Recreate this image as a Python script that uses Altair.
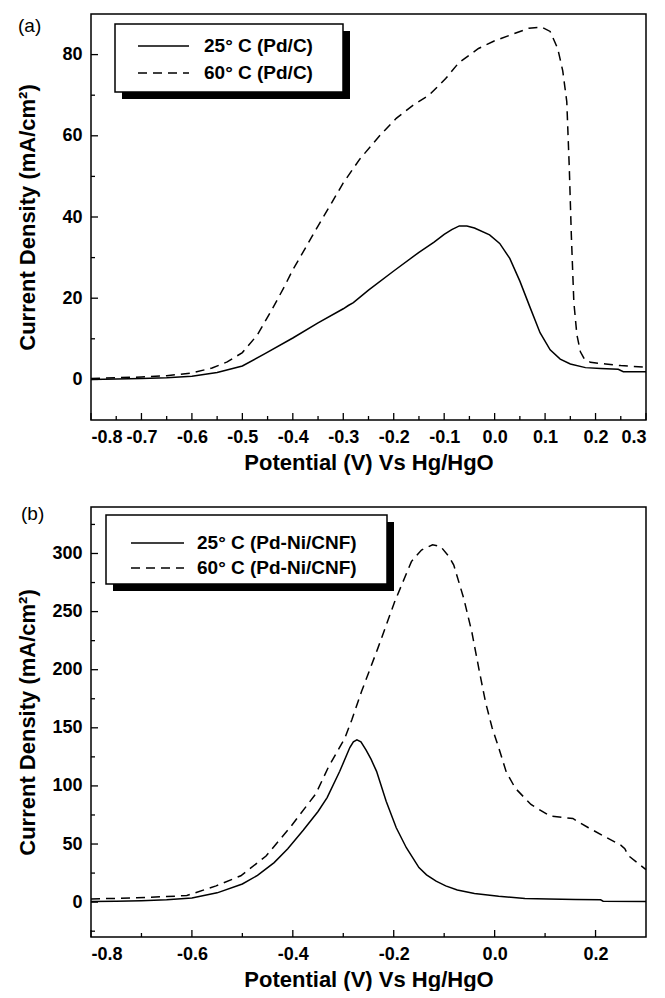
import altair as alt
import pandas as pd

FONT = "Liberation Sans"

# ---------------- Panel (a): Pd/C ----------------
a_x_25 = [-0.80, -0.75, -0.70, -0.65, -0.60, -0.55, -0.50, -0.456, -0.40, -0.35, -0.30, -0.29,
          -0.28, -0.25, -0.20, -0.15, -0.12, -0.10, -0.085, -0.07, -0.055, -0.04, -0.01, 0.01,
          0.03, 0.05, 0.07, 0.09, 0.11, 0.13, 0.15, 0.18, 0.21, 0.245, 0.255, 0.30]
a_y_25 = [0.0, 0.1, 0.2, 0.4, 0.8, 1.7, 3.3, 6.3, 10.2, 13.9, 17.4, 18.2,
          18.9, 22.0, 26.7, 31.3, 33.8, 35.7, 36.9, 37.8, 37.8, 37.3, 35.6, 33.5,
          29.8, 24.2, 17.8, 11.5, 7.3, 5.0, 3.8, 2.9, 2.7, 2.5, 1.9, 1.9]

a_x_60 = [-0.80, -0.75, -0.70, -0.65, -0.60, -0.56, -0.53, -0.50, -0.47, -0.44, -0.417,
          -0.40, -0.373, -0.358, -0.323, -0.30, -0.267, -0.228, -0.195, -0.162, -0.13, -0.097,
          -0.071, -0.032, -0.002, 0.035, 0.068, 0.093, 0.11, 0.125, 0.135, 0.143, 0.148, 0.152,
          0.157, 0.163, 0.17, 0.178, 0.19, 0.22, 0.25, 0.30]
a_y_60 = [0.2, 0.4, 0.6, 0.9, 1.6, 2.8, 4.3, 6.6, 11.0, 17.5, 22.8,
          27.0, 32.8, 36.1, 43.5, 48.4, 54.3, 60.0, 64.3, 67.5, 70.0, 74.1,
          78.0, 81.5, 83.3, 85.0, 86.5, 86.8, 85.7, 81.5, 76.0, 68.4, 52.0, 35.6,
          19.0, 11.0, 6.8, 5.0, 4.2, 3.8, 3.4, 3.0]

a_xticks_major = [-0.8, -0.7, -0.6, -0.5, -0.4, -0.3, -0.2, -0.1, 0.0, 0.1, 0.2, 0.3]
a_xticks_minor = [-0.75, -0.65, -0.55, -0.45, -0.35, -0.25, -0.15, -0.05, 0.05, 0.15, 0.25]
a_yticks_major = [0, 20, 40, 60, 80]
a_yticks_minor = [10, 30, 50, 70]
a_legend = ["25° C (Pd/C)", "60° C (Pd/C)"]

# ---------------- Panel (b): Pd-Ni/CNF ----------------
b_x_25 = [-0.80, -0.75, -0.70, -0.65, -0.60, -0.55, -0.50, -0.47, -0.437, -0.41, -0.379, -0.35,
          -0.332, -0.307, -0.287, -0.28, -0.273, -0.265, -0.255, -0.245, -0.234, -0.215,
          -0.195, -0.175, -0.15, -0.135, -0.116, -0.097, -0.074, -0.04, 0.008, 0.06, 0.107,
          0.16, 0.21, 0.215, 0.30]
b_y_25 = [0.5, 0.8, 1.2, 2.0, 3.5, 8.0, 15.6, 23.0, 34.0, 46.0, 62.0, 78.0,
          90.0, 112.6, 133.0, 138.0, 139.7, 138.0, 131.0, 123.0, 112.5, 86.8,
          64.0, 46.8, 29.7, 23.5, 18.0, 14.0, 10.5, 7.5, 5.0, 3.2, 2.6,
          2.2, 2.0, 0.8, 0.6]

b_x_60 = [-0.80, -0.75, -0.709, -0.65, -0.61, -0.552, -0.503, -0.453, -0.404, -0.354, -0.33,
          -0.297, -0.283, -0.264, -0.231, -0.198, -0.165, -0.145, -0.123, -0.107, -0.09,
          -0.081, -0.061, -0.045, -0.03, -0.018, -0.005, 0.008, 0.023, 0.041, 0.072, 0.11,
          0.155, 0.17, 0.186, 0.224, 0.25, 0.258, 0.265, 0.30]
b_y_60 = [2.8, 3.2, 3.7, 4.8, 5.7, 14.0, 22.7, 39.7, 65.0, 93.5, 115.7,
          141.0, 157.0, 181.0, 219.0, 258.6, 293.0, 303.0, 307.5, 306.0, 297.0,
          290.0, 261.0, 232.0, 198.0, 172.0, 150.0, 133.0, 112.0, 98.0, 84.0, 74.0,
          72.0, 68.0, 64.0, 55.0, 49.0, 46.0, 40.0, 28.0]

b_xticks_major = [-0.8, -0.6, -0.4, -0.2, 0.0, 0.2]
b_xticks_minor = [-0.7, -0.5, -0.3, -0.1, 0.1]
b_yticks_major = [0, 50, 100, 150, 200, 250, 300]
b_yticks_minor = [-25, 25, 75, 125, 175, 225, 275, 325]
b_legend = ["25° C (Pd-Ni/CNF)", "60° C (Pd-Ni/CNF)"]

x_title = "Potential (V) Vs Hg/HgO"
y_title = "Current Density (mA/cm²)"

W = 555
XLABEL = "replace(format(datum.value, '.1f'), '\u2212', '-')"


def make_panel(tag, xs25, ys25, xs60, ys60, xdom, ydom, xmaj, xmin, ymaj, ymin,
               legend, H, box, rows, sample, textx, tagpos):
    xscale = alt.Scale(domain=xdom, nice=False, zero=False)
    yscale = alt.Scale(domain=ydom, nice=False, zero=False)
    xaxis = alt.Axis(values=xmaj, labelExpr=XLABEL, title=x_title, labelPadding=8,
                     labelOverlap=False, labelBound=False,
                     titlePadding=6, tickSize=0, ticks=False, domain=False, grid=False)
    yaxis = alt.Axis(values=ymaj, format="d", title=y_title, labelPadding=9, tickSize=0,
                     labelOverlap=False,
                     ticks=False, domain=False, grid=False,
                     titleX=-57, titleAngle=270, titleBaseline="alphabetic")

    df25 = pd.DataFrame({"x": xs25, "y": ys25})
    df60 = pd.DataFrame({"x": xs60, "y": ys60})
    solid = alt.Chart(df25).mark_line(color="black", strokeWidth=1.5).encode(
        x=alt.X("x:Q", scale=xscale, axis=xaxis),
        y=alt.Y("y:Q", scale=yscale, axis=yaxis),
    )
    dashed = alt.Chart(df60).mark_line(color="black", strokeWidth=1.5,
                                       strokeDash=[9, 6]).encode(
        x=alt.X("x:Q", scale=xscale, axis=xaxis),
        y=alt.Y("y:Q", scale=yscale, axis=yaxis),
    )

    def xt(vals, length):
        return alt.Chart(pd.DataFrame({"x": vals})).mark_rule(
            color="black", strokeWidth=1.3).encode(
            x=alt.X("x:Q", scale=xscale, axis=xaxis),
            y=alt.value(H), y2=alt.value(H - length))

    def yt(vals, length):
        return alt.Chart(pd.DataFrame({"y": vals})).mark_rule(
            color="black", strokeWidth=1.3).encode(
            y=alt.Y("y:Q", scale=yscale, axis=yaxis),
            x=alt.value(0), x2=alt.value(length))

    one = alt.Data(values=[{}])
    shadow = alt.Chart(one).mark_rect(color="black").encode(
        x=alt.value(box[0] + 7), x2=alt.value(box[2] + 7),
        y=alt.value(box[1] + 7), y2=alt.value(box[3] + 7))
    frame = alt.Chart(one).mark_rect(fill="white", stroke="black", strokeWidth=1.5).encode(
        x=alt.value(box[0]), x2=alt.value(box[2]),
        y=alt.value(box[1]), y2=alt.value(box[3]))
    l1 = alt.Chart(one).mark_rule(color="black", strokeWidth=1.5).encode(
        x=alt.value(sample[0]), x2=alt.value(sample[1]), y=alt.value(rows[0]))
    l2 = alt.Chart(one).mark_rule(color="black", strokeWidth=1.5, strokeDash=[9, 6]).encode(
        x=alt.value(sample[0]), x2=alt.value(sample[1]), y=alt.value(rows[1]))
    tstyle = dict(align="left", baseline="middle", font=FONT, fontWeight="bold",
                  fontSize=19, color="black")
    t1 = alt.Chart(one).mark_text(**tstyle).encode(
        x=alt.value(textx), y=alt.value(rows[0]), text=alt.value(legend[0]))
    t2 = alt.Chart(one).mark_text(**tstyle).encode(
        x=alt.value(textx), y=alt.value(rows[1]), text=alt.value(legend[1]))
    tagt = alt.Chart(one).mark_text(align="left", baseline="middle", font=FONT,
                                    fontSize=19, color="black").encode(
        x=alt.value(tagpos[0]), y=alt.value(tagpos[1]), text=alt.value(tag))

    return alt.layer(solid, dashed, xt(xmaj, 7), xt(xmin, 4), yt(ymaj, 7), yt(ymin, 4),
                     shadow, frame, l1, l2, t1, t2, tagt).properties(width=W, height=H)


pa = make_panel("(a)", a_x_25, a_y_25, a_x_60, a_y_60, [-0.8, 0.3], [-10, 90],
                a_xticks_major, a_xticks_minor, a_yticks_major, a_yticks_minor,
                a_legend, 406, box=(24, 10, 252, 78), rows=(32, 59), sample=(47, 98),
                textx=113, tagpos=(-73, 12))
pb = make_panel("(b)", b_x_25, b_y_25, b_x_60, b_y_60, [-0.8, 0.3], [-30, 340],
                b_xticks_major, b_xticks_minor, b_yticks_major, b_yticks_minor,
                b_legend, 430, box=(15, 8, 296, 77), rows=(36, 61), sample=(40, 93),
                textx=106, tagpos=(-70, 7))

chart = alt.vconcat(pa, pb, spacing=30).properties(
    padding={"left": 7, "top": 5, "right": 0, "bottom": 0}
).configure_view(
    stroke="black", strokeWidth=1.5
).configure_axis(
    labelFont=FONT, labelFontSize=18, labelFontWeight="bold", labelColor="black",
    titleFont=FONT, titleFontSize=22, titleFontWeight="bold", titleColor="black",
    domain=False, ticks=False, grid=False
)

chart.save("out.html", embed_options={"renderer": "svg", "actions": False})
